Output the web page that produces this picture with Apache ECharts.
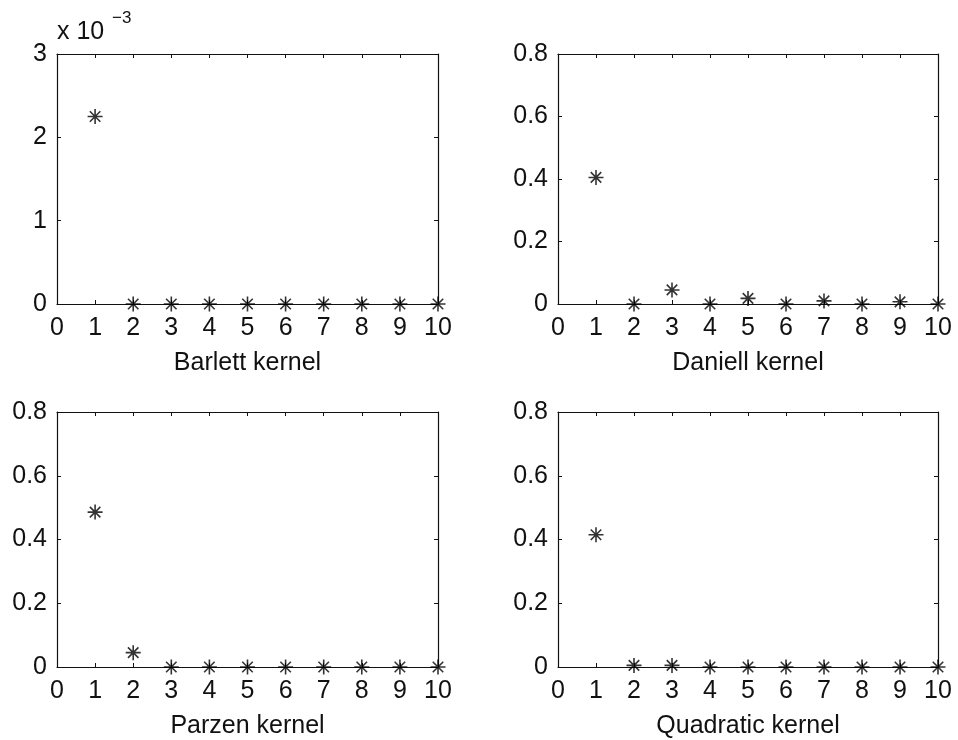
<!DOCTYPE html>
<html>
<head>
<meta charset="utf-8">
<script src="https://cdn.jsdelivr.net/npm/echarts@6/dist/echarts.min.js"></script>
<style>
  html, body { margin: 0; padding: 0; background: #fff; }
  #chart { width: 958px; height: 740px; }
</style>
</head>
<body>
<div id="chart"></div>
<script>
// lag positions 1..10
const lags = [1, 2, 3, 4, 5, 6, 7, 8, 9, 10];
const xTicks = [0, 1, 2, 3, 4, 5, 6, 7, 8, 9, 10];

// kernel weights
const barlett = [0.00225, 0, 0, 0, 0, 0, 0, 0, 0, 0];
const daniell = [0.405, 0, 0.045, 0, 0.018, 0, 0.01, 0, 0.007, 0];
const parzen = [0.486, 0.045, 0, 0, 0, 0, 0, 0, 0, 0];
const quadratic = [0.415, 0.005, 0.005, 0, 0, 0, 0, 0, 0, 0];

const titles = ["Barlett kernel", "Daniell kernel", "Parzen kernel", "Quadratic kernel"];
const seriesValues = [barlett, daniell, parzen, quadratic];
const yMax = [0.003, 0.8, 0.8, 0.8];
const yStep = [0.001, 0.2, 0.2, 0.2];

const FONT = "Liberation Sans, Arial, sans-serif";
const FS = 25;
const INK = "#111";
// MATLAB style '*' marker (plus + cross)
const STAR = "path://M0,-10L0,10M-10,0L10,0M-7,-7L7,7M-7,7L7,-7";

const grids = [
  { left: 57, top: 54, width: 381, height: 250 },
  { left: 558, top: 54, width: 380, height: 250 },
  { left: 57, top: 412, width: 381, height: 257 },
  { left: 558, top: 412, width: 380, height: 257 }
];

const chart = echarts.init(document.getElementById("chart"));

const xAxes = [];
const yAxes = [];
const series = [];

grids.forEach((g, i) => {
  const axisLine = { show: true, onZero: false, lineStyle: { color: INK, width: 1.2 } };
  const tick = { show: true, inside: true, length: 4, lineStyle: { color: INK } };

  xAxes.push({
    gridIndex: i, type: "value", position: "bottom",
    min: xTicks[0], max: xTicks[xTicks.length - 1], interval: 1,
    axisLine, axisTick: tick, splitLine: { show: false },
    axisLabel: { color: INK, fontSize: FS, fontFamily: FONT, margin: 12 },
    name: titles[i], nameLocation: "middle", nameGap: 47,
    nameTextStyle: { color: INK, fontSize: FS, fontFamily: FONT }
  });
  xAxes.push({
    gridIndex: i, type: "value", position: "top",
    min: xTicks[0], max: xTicks[xTicks.length - 1], interval: 1,
    axisLine, axisTick: tick, splitLine: { show: false },
    axisLabel: { show: false }
  });

  const scale = i === 0 ? 1000 : 1;
  yAxes.push({
    gridIndex: i, type: "value", position: "left",
    min: 0, max: yMax[i], interval: yStep[i],
    axisLine, axisTick: tick, splitLine: { show: false },
    axisLabel: {
      color: INK, fontSize: FS, fontFamily: FONT, margin: 10,
      formatter: v => {
        const n = Math.round(v * scale * 10) / 10;
        return n === 0 ? "0" : String(n);
      }
    }
  });
  yAxes.push({
    gridIndex: i, type: "value", position: "right",
    min: 0, max: yMax[i], interval: yStep[i],
    axisLine, axisTick: tick, splitLine: { show: false },
    axisLabel: { show: false }
  });

  series.push({
    type: "scatter",
    xAxisIndex: i * 2,
    yAxisIndex: i * 2,
    clip: false,
    symbol: STAR,
    symbolSize: 15,
    itemStyle: { color: "transparent", borderColor: "#000", borderWidth: 1.6 },
    emphasis: { disabled: true },
    data: lags.map((x, j) => [x, seriesValues[i][j]])
  });
});

const option = {
  backgroundColor: "#fff",
  animation: false,
  grid: grids.map(g => ({ ...g, show: false })),
  xAxis: xAxes,
  yAxis: yAxes,
  series,
  graphic: [
    { type: "text", left: 57, top: 20,
      style: { text: "x 10", fontSize: FS, fontFamily: FONT, fill: INK } },
    { type: "text", left: 112, top: 10,
      style: { text: "\u22123", fontSize: 17, fontFamily: FONT, fill: INK } }
  ]
};

chart.setOption(option);
</script>
</body>
</html>
